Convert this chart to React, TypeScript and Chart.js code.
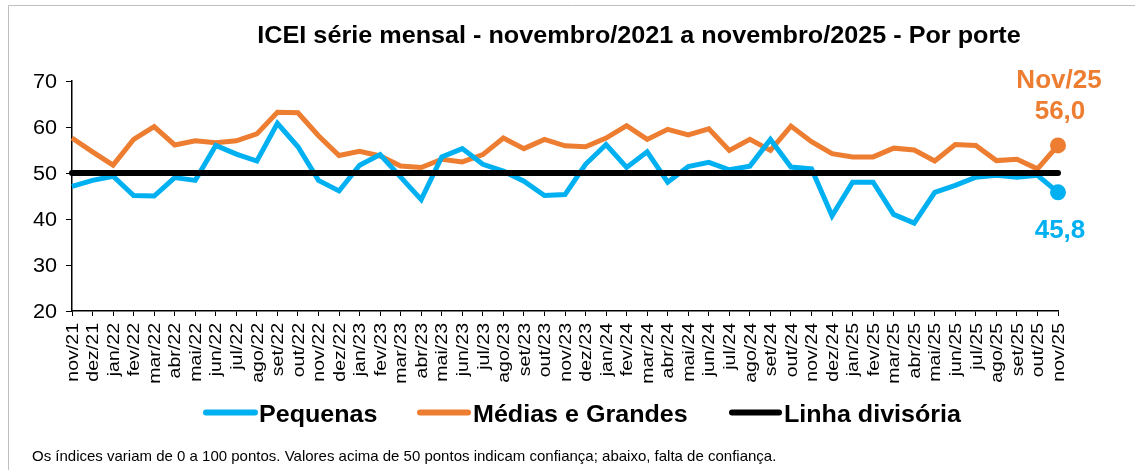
import React, { useEffect, useRef } from "react";
import { Chart, registerables } from "chart.js";

Chart.register(...registerables);

const months = [
  "nov/21", "dez/21",
  "jan/22", "fev/22", "mar/22", "abr/22", "mai/22", "jun/22", "jul/22", "ago/22", "set/22", "out/22", "nov/22", "dez/22",
  "jan/23", "fev/23", "mar/23", "abr/23", "mai/23", "jun/23", "jul/23", "ago/23", "set/23", "out/23", "nov/23", "dez/23",
  "jan/24", "fev/24", "mar/24", "abr/24", "mai/24", "jun/24", "jul/24", "ago/24", "set/24", "out/24", "nov/24", "dez/24",
  "jan/25", "fev/25", "mar/25", "abr/25", "mai/25", "jun/25", "jul/25", "ago/25", "set/25", "out/25", "nov/25",
];

const pequenas = [
  47.1, 48.4, 49.3, 45.1, 45.0, 49.0, 48.4, 56.0, 54.1, 52.6, 60.8, 55.7, 48.4, 46.1,
  51.7, 54.0, 49.1, 44.2, 53.5, 55.3, 51.9, 50.4, 48.2, 45.1, 45.3, 51.9,
  56.2, 51.2, 54.6, 48.0, 51.4, 52.3, 50.7, 51.5, 57.3, 51.3, 50.9, 40.7,
  48.0, 48.0, 41.0, 39.1, 45.8, 47.3, 49.1, 49.5, 49.1, 49.5, 45.8,
];

const mediasGrandes = [
  57.6, 54.6, 51.7, 57.3, 60.1, 56.1, 57.0, 56.6, 57.0, 58.5, 63.2, 63.1, 58.1, 53.8,
  54.7, 53.7, 51.5, 51.2, 53.0, 52.4, 54.0, 57.6, 55.3, 57.3, 55.9, 55.7,
  57.6, 60.3, 57.3, 59.5, 58.3, 59.6, 54.9, 57.3, 54.9, 60.2, 56.8, 54.2,
  53.5, 53.5, 55.4, 55.0, 52.6, 56.2, 56.0, 52.7, 53.0, 50.9, 56.0,
];

const linhaDivisoria = [
  50, 50, 50, 50, 50, 50, 50, 50, 50, 50, 50, 50, 50, 50,
  50, 50, 50, 50, 50, 50, 50, 50, 50, 50, 50, 50,
  50, 50, 50, 50, 50, 50, 50, 50, 50, 50, 50, 50,
  50, 50, 50, 50, 50, 50, 50, 50, 50, 50, 50,
];

const yTicks = [20, 30, 40, 50, 60, 70];

const titleText = "ICEI série mensal - novembro/2021 a novembro/2025 - Por porte";
const footerText =
  "Os índices variam de 0 a 100 pontos. Valores acima de 50 pontos indicam confiança; abaixo, falta de confiança.";
const seriesNames = ["Pequenas", "Médias e Grandes", "Linha divisória"];
const lastLabel = "Nov/25";

const BLUE = "#00B0F0";
const ORANGE = "#ED7D31";
const BLACK = "#000000";
const FONT = '"Liberation Sans", Arial, sans-serif';

function txt(
  ctx: CanvasRenderingContext2D,
  s: string,
  x: number,
  y: number,
  font: string,
  color: string,
  align: CanvasTextAlign,
  baseline: CanvasTextBaseline,
  sx = 1,
  rot = 0
) {
  ctx.save();
  ctx.translate(x, y);
  if (rot) ctx.rotate(rot);
  ctx.scale(sx, 1);
  ctx.font = font;
  ctx.fillStyle = color;
  ctx.textAlign = align;
  ctx.textBaseline = baseline;
  ctx.fillText(s, 0, 0);
  ctx.restore();
}

const decorPlugin = {
  id: "decor",
  afterDraw(chart: any) {
    const ctx: CanvasRenderingContext2D = chart.ctx;
    const xs = chart.scales.x;
    const ys = chart.scales.y;

    // frame
    ctx.save();
    ctx.strokeStyle = "#BFBFBF";
    ctx.lineWidth = 1;
    ctx.beginPath();
    ctx.moveTo(8.5, 470);
    ctx.lineTo(8.5, 5.5);
    ctx.lineTo(1135, 5.5);
    ctx.stroke();
    ctx.restore();

    // title
    txt(ctx, titleText, 639, 42.5, `bold 24px ${FONT}`, BLACK, "center", "alphabetic", 1.05);

    // y tick labels
    yTicks.forEach((v) => {
      txt(ctx, String(v), 57, ys.getPixelForValue(v) + 1, `20px ${FONT}`, BLACK, "right", "middle", 1.08);
    });

    // x tick labels
    months.forEach((m, i) => {
      const x = xs.getPixelForValue(i);
      txt(ctx, m, x + 1, 323, `17px ${FONT}`, BLACK, "right", "middle", 1.15, -Math.PI / 2);
    });

    // legend
    const legend = [
      { x1: 206, x2: 255, tx: 259, color: BLUE, name: seriesNames[0] },
      { x1: 420, x2: 468, tx: 473, color: ORANGE, name: seriesNames[1] },
      { x1: 732, x2: 779, tx: 784, color: BLACK, name: seriesNames[2] },
    ];
    legend.forEach((l) => {
      ctx.save();
      ctx.strokeStyle = l.color;
      ctx.lineWidth = 6;
      ctx.lineCap = "round";
      ctx.beginPath();
      ctx.moveTo(l.x1, 412.5);
      ctx.lineTo(l.x2, 412.5);
      ctx.stroke();
      ctx.restore();
      txt(ctx, l.name, l.tx, 421.5, `bold 24px ${FONT}`, BLACK, "left", "alphabetic", 1.045);
    });

    // footer
    txt(ctx, footerText, 32, 461, `15px ${FONT}`, "#000000", "left", "alphabetic");

    // annotations for last point
    const last = months.length - 1;
    const fmt = (v: number) => v.toFixed(1).replace(".", ",");
    txt(ctx, lastLabel, 1059, 88, `bold 26px ${FONT}`, ORANGE, "center", "alphabetic");
    txt(ctx, fmt(mediasGrandes[last]), 1060, 119, `bold 26px ${FONT}`, ORANGE, "center", "alphabetic");
    txt(ctx, fmt(pequenas[last]), 1060, 238, `bold 26px ${FONT}`, BLUE, "center", "alphabetic");
  },
};

export default function App() {
  const canvasRef = useRef<HTMLCanvasElement | null>(null);

  useEffect(() => {
    document.body.style.margin = "0";
    const canvas = canvasRef.current;
    if (!canvas) return;
    const lastIdx = months.length - 1;
    const chart = new Chart(canvas, {
      type: "line",
      data: {
        labels: months,
        datasets: [
          {
            label: seriesNames[2],
            data: linhaDivisoria,
            borderColor: BLACK,
            borderWidth: 6,
            borderCapStyle: "round",
            pointRadius: 0,
            order: 0,
          },
          {
            label: seriesNames[0],
            data: pequenas,
            borderColor: BLUE,
            backgroundColor: BLUE,
            borderWidth: 5,
            pointRadius: (c: any) => (c.dataIndex === lastIdx ? 8 : 0),
            pointBorderWidth: 0,
            pointBackgroundColor: BLUE,
            tension: 0,
            order: 1,
          },
          {
            label: seriesNames[1],
            data: mediasGrandes,
            borderColor: ORANGE,
            backgroundColor: ORANGE,
            borderWidth: 5,
            pointRadius: (c: any) => (c.dataIndex === lastIdx ? 8 : 0),
            pointBorderWidth: 0,
            pointBackgroundColor: ORANGE,
            tension: 0,
            order: 2,
          },
        ],
      },
      options: {
        responsive: false,
        animation: false,
        devicePixelRatio: 1,
        layout: { padding: { top: 81, right: 77, bottom: 0, left: 0 } },
        plugins: {
          legend: { display: false },
          title: { display: false },
          tooltip: { enabled: false },
        },
        scales: {
          x: {
            type: "category",
            offset: false,
            grid: {
              display: true,
              drawOnChartArea: false,
              drawTicks: true,
              tickLength: 5,
              color: BLACK,
              lineWidth: 1,
            },
            border: { display: true, color: BLACK, width: 1.5 },
            ticks: { display: false, autoSkip: false },
            afterFit: (s: any) => {
              s.height = 159;
            },
          },
          y: {
            min: 20,
            max: 70,
            grid: {
              display: true,
              drawOnChartArea: false,
              drawTicks: true,
              tickLength: 6,
              color: BLACK,
              lineWidth: 1,
            },
            border: { display: true, color: BLACK, width: 1.5 },
            ticks: { display: false, stepSize: 10 },
            afterFit: (s: any) => {
              s.width = 72;
            },
          },
        },
      } as any,
      plugins: [decorPlugin],
    });
    return () => chart.destroy();
  }, []);

  return (
    <div style={{ width: 1135, height: 470, background: "#ffffff" }}>
      <canvas ref={canvasRef} width={1135} height={470} style={{ display: "block" }} />
    </div>
  );
}
